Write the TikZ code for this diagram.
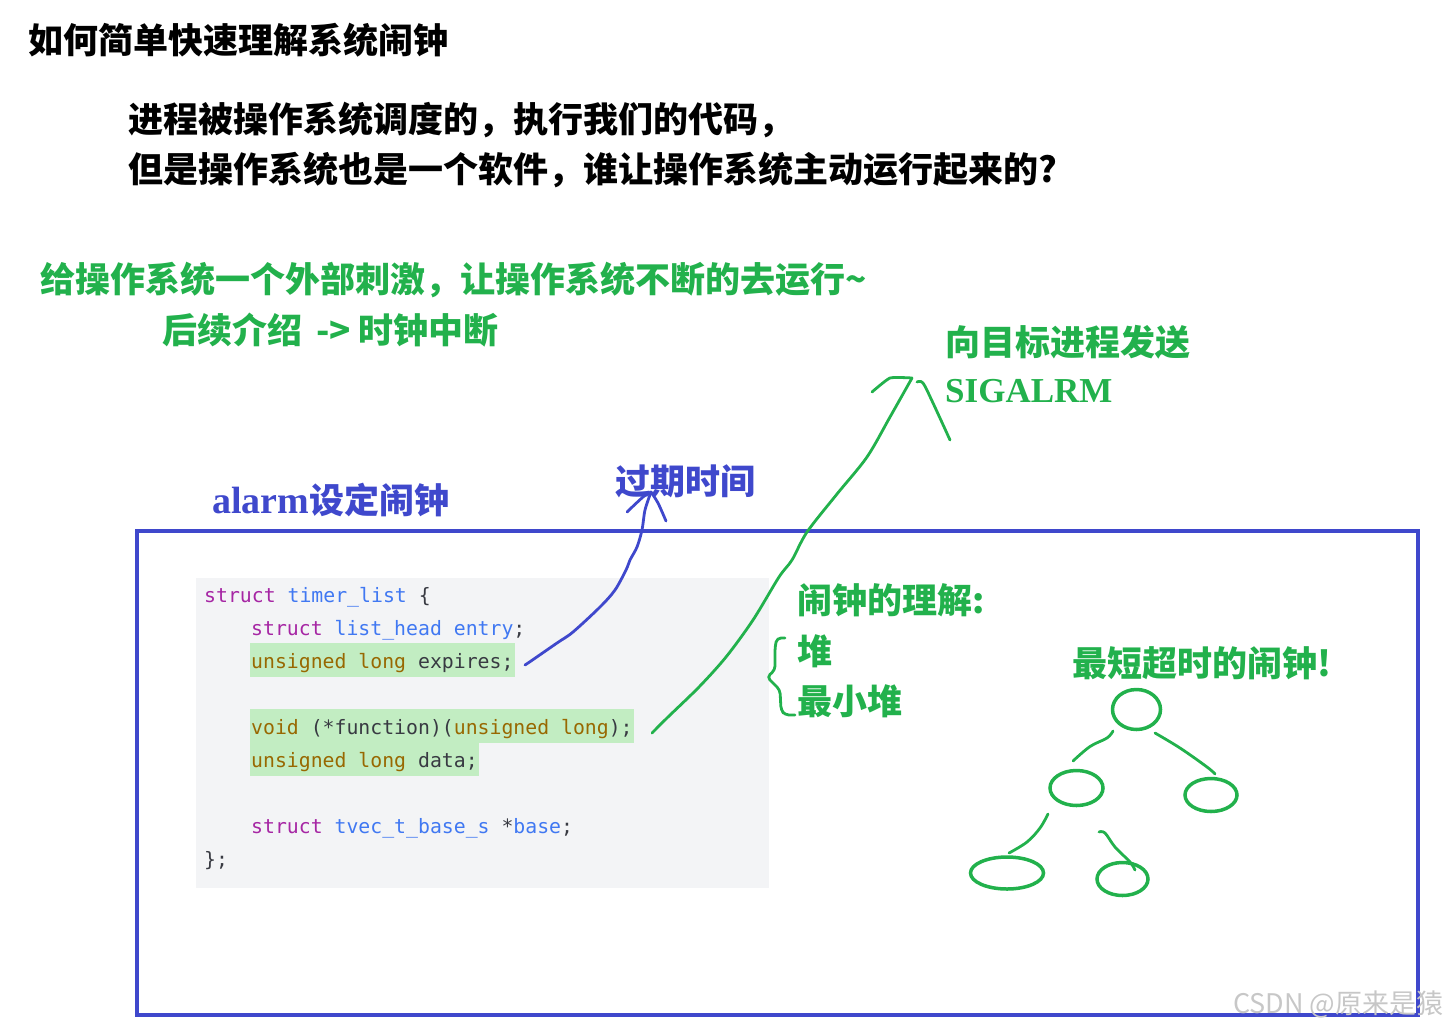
\documentclass[tikz,border=0pt]{standalone}
\usepackage{fontspec}
\setmainfont{Liberation Serif}
\newfontfamily\cjk{Noto Sans CJK SC}
\newfontfamily\codefont{DejaVu Sans Mono}
\newfontfamily\serifface{Liberation Serif}
\newfontfamily\wmfont{Noto Sans CJK SC}
\usetikzlibrary{shapes.geometric}
\definecolor{grn}{RGB}{34,177,76}
\definecolor{blu}{RGB}{63,72,204}
\definecolor{codebg}{RGB}{243,244,246}
\definecolor{hl}{RGB}{194,237,194}
\definecolor{ckw}{RGB}{166,38,164}
\definecolor{cty}{RGB}{64,120,242}
\definecolor{cbt}{RGB}{152,104,1}
\definecolor{cdef}{RGB}{56,58,66}
\begin{document}
\begin{tikzpicture}[x=1pt,y=-1pt,
  txt/.style={anchor=west, inner sep=0pt, font=\cjk\bfseries\fontsize{35}{42}\selectfont},
  codeline/.style={anchor=base west, inner xsep=1.5pt, inner ysep=0pt, text height=25pt, text depth=8.5pt,
    font=\codefont\fontsize{19.8}{24}\selectfont, text=cdef},
  hand/.style={line width=2.8pt, line cap=round, line join=round},
  heapnode/.style={ellipse, draw=grn, line width=3.5pt, inner sep=0pt}]
\useasboundingbox (0,0) rectangle (1447,1031);

% headings
\node[txt, text=black] (title) at (28,40) {如何简单快速理解系统闹钟};
\node[txt, text=black] (q1) at (128,120) {进程被操作系统调度的，执行我们的代码，};
\node[txt, text=black] (q2) at (128,170) {但是操作系统也是一个软件，谁让操作系统主动运行起来的?};
\node[txt, text=grn] (a1) at (40,280) {给操作系统一个外部刺激，让操作系统不断的去运行\textasciitilde};
\node[txt, text=grn] (a2) at (162,330) {后续介绍 \,-{}> 时钟中断};

% outer frame
\draw[blu, line width=4.5pt] (137,531) rectangle (1418,1015);

% code block
\fill[codebg] (196,578) rectangle (769,888);
\node[codeline] (c1) at (202.5,602) {\textcolor{ckw}{struct} \textcolor{cty}{timer\_list} \{};
\node[codeline] (c2) at (249.5,635) {\textcolor{ckw}{struct} \textcolor{cty}{list\_head} \textcolor{cty}{entry};};
\node[codeline, fill=hl] (c3) at (249.5,668) {\textcolor{cbt}{unsigned} \textcolor{cbt}{long} expires;};
\node[codeline, fill=hl] (c4) at (249.5,734) {\textcolor{cbt}{void} (*function)(\textcolor{cbt}{unsigned} \textcolor{cbt}{long});};
\node[codeline, fill=hl] (c5) at (249.5,767) {\textcolor{cbt}{unsigned} \textcolor{cbt}{long} data;};
\node[codeline] (c6) at (249.5,833) {\textcolor{ckw}{struct} \textcolor{cty}{tvec\_t\_base\_s} *\textcolor{cty}{base};};
\node[codeline] (c7) at (202.5,866) {\};};

% labels
\node[txt, text=blu] (alarm) at (212,500) {{\serifface\bfseries\fontsize{38}{42}\selectfont alarm}设定闹钟};
\node[txt, text=blu] (expire) at (615,481) {过期时间};
\node[txt, text=grn] (send) at (945,342) {向目标进程发送};
\node[anchor=west, inner sep=0pt, text=grn, font=\serifface\bfseries\fontsize{35}{42}\selectfont] (sig) at (945,391) {SIGALRM};
\node[txt, text=grn] (understand) at (797,600) {闹钟的理解:};
\node[txt, text=grn] (heap) at (797,651) {堆};
\node[txt, text=grn] (minheap) at (797,701) {最小堆};
\node[txt, text=grn] (shortest) at (1072,663) {最短超时的闹钟!};

% blue arrow: expires -> 过期时间
\coordinate (bstart) at (525,665);
\coordinate (btip) at (651,492);
\draw[blu, hand] plot[smooth, tension=0.5] coordinates {(bstart) (531,661) (557,643) (573,632) (600,607) (615,590) (626,570) (630,560) (637,547) (642,530) (645,510) (btip)};
\draw[blu, hand] plot[smooth, tension=0.5] coordinates {(627,512) (643,497) (btip)};
\draw[blu, hand] plot[smooth, tension=0.5] coordinates {(btip) (658,503) (666,521)};

% green arrow: function -> SIGALRM
\coordinate (gstart) at (652,733);
\coordinate (gtip) at (912,378);
\draw[grn, hand] plot[smooth, tension=0.5] coordinates {(gstart) (668,717) (699,687) (726,657) (753,620) (779,577) (792,560) (807,532) (837,494) (867,457) (890,417) (gtip)};
\draw[grn, hand] plot[smooth, tension=0.3] coordinates {(gtip) (890,378) (872,392)};
\draw[grn, hand] plot[smooth, tension=0.5] coordinates {(917,382) (923,383) (933,403) (950,440)};

% brace
\draw[grn, hand, rounded corners=4pt] (785,638) -- (777,638) -- (775,647) -- (775,670) -- (767,677) -- (774,684) -- (780,690) -- (781,710) -- (785,715) -- (795,715);

% heap tree
\node[heapnode, minimum width=48pt, minimum height=40pt] (r) at (1136.5,709.5) {};
\node[heapnode, minimum width=53pt, minimum height=35pt] (l) at (1076.5,788) {};
\node[heapnode, minimum width=52pt, minimum height=33pt] (rr) at (1211,795) {};
\node[heapnode, minimum width=73pt, minimum height=32pt] (ll) at (1007,873) {};
\node[heapnode, minimum width=51pt, minimum height=33pt] (lr) at (1122.5,879) {};
\draw[grn, hand] plot[smooth, tension=0.6] coordinates {(1113,731) (1107,738) (1090,746.5) (1073,761)};
\draw[grn, hand] plot[smooth, tension=0.6] coordinates {(1155,733) (1180,748) (1207,767) (1215,774)};
\draw[grn, hand] plot[smooth, tension=0.6] coordinates {(1048,814) (1040,828) (1027,842) (1009,853)};
\draw[grn, hand] plot[smooth, tension=0.6] coordinates {(1099,832) (1105,833) (1115,847) (1130,862) (1135,870)};

% watermark
\node[anchor=west, inner sep=0pt, text=black!22, font=\wmfont\fontsize{27}{30}\selectfont] (wm) at (1233,1004) {CSDN @原来是猿};
\end{tikzpicture}
\end{document}
